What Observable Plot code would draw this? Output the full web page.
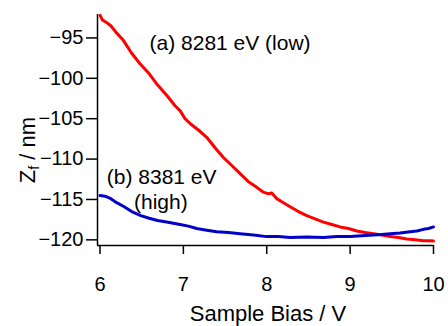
<!DOCTYPE html>
<html><head><meta charset="utf-8">
<script src="https://cdn.jsdelivr.net/npm/d3@7"></script>
<script src="https://cdn.jsdelivr.net/npm/@observablehq/plot@0.6"></script>
<style>body{margin:0;background:#fff}</style>
</head><body><div id="chart"></div>
<script>
const redV = [6.0,6.03,6.08,6.13,6.2,6.28,6.38,6.48,6.58,6.68,6.8,6.9,6.96,7.02,7.08,7.18,7.28,7.38,7.48,7.58,7.68,7.78,7.88,7.96,8.02,8.06,8.12,8.2,8.28,8.38,8.48,8.58,8.68,8.78,8.88,8.98,9.08,9.18,9.28,9.38,9.48,9.58,9.68,9.78,9.88,9.95,10.0];
const redZ = [-92.2,-92.8,-93.1,-93.5,-94.4,-95.3,-96.9,-98.2,-99.3,-100.7,-102.1,-103.4,-104.0,-105.0,-105.6,-106.4,-107.3,-108.6,-109.8,-110.8,-111.8,-112.8,-113.5,-114.1,-114.3,-114.2,-114.9,-115.4,-115.9,-116.5,-117.0,-117.4,-117.8,-118.1,-118.4,-118.6,-118.9,-119.1,-119.25,-119.4,-119.6,-119.7,-119.9,-120.0,-120.1,-120.1,-120.15];
const blueV = [6.0,6.06,6.13,6.2,6.29,6.38,6.49,6.58,6.69,6.8,6.96,7.06,7.16,7.28,7.4,7.54,7.68,7.84,8.0,8.14,8.28,8.48,8.68,8.84,9.0,9.14,9.28,9.38,9.48,9.6,9.72,9.8,9.88,9.94,10.0];
const blueZ = [-114.5,-114.6,-114.9,-115.4,-115.9,-116.5,-117.0,-117.3,-117.6,-117.8,-118.1,-118.3,-118.6,-118.8,-119.0,-119.1,-119.25,-119.4,-119.6,-119.6,-119.7,-119.65,-119.7,-119.6,-119.6,-119.5,-119.4,-119.35,-119.25,-119.15,-119.0,-118.9,-118.7,-118.6,-118.4];
const xTicks = [6,7,8,9,10];
const yTicks = [-95,-100,-105,-110,-115,-120];
const xDomain = [5.97,10];
const yDomain = [-120.7,-92.1];

const red = redV.map((v,i)=>({v, z: redZ[i]}));
const blue = blueV.map((v,i)=>({v, z: blueZ[i]}));
const font = "Liberation Sans, Arial, Helvetica, sans-serif";

const plot = Plot.plot({
  width: 448, height: 326,
  marginLeft: 97, marginRight: 15, marginTop: 14, marginBottom: 81,
  style: {fontFamily: font, background: "#fff", color: "#000"},
  x: {domain: xDomain},
  y: {domain: yDomain},
  marks: [
    Plot.axisX({ticks: xTicks, tickFormat: d3.format("d"), tickSize: 9, tickPadding: 22, fontSize: 20, label: null, strokeWidth: 1.5}),
    Plot.axisY({ticks: yTicks, tickSize: 11, tickPadding: 3, fontSize: 20, label: null, strokeWidth: 1.5}),
    Plot.ruleX([xDomain[0]], {stroke: "#000", strokeWidth: 1.5}),
    Plot.ruleY([yDomain[0]], {stroke: "#000", strokeWidth: 1.5}),
    Plot.line(red, {x: "v", y: "z", stroke: "#ff0000", strokeWidth: 3}),
    Plot.line(blue, {x: "v", y: "z", stroke: "#0000c8", strokeWidth: 3}),
    Plot.text(["(a) 8281 eV (low)"], {x: 7.56, y: -95.7, text: d => d, fontSize: 21, fill: "#000"}),
    Plot.text(["(b) 8381 eV"], {x: 6.74, y: -112.3, text: d => d, fontSize: 21, fill: "#000"}),
    Plot.text(["(high)"], {x: 6.73, y: -115.4, text: d => d, fontSize: 21, fill: "#000"})
  ]
});
const svg = d3.select(plot);
svg.append("text")
  .attr("x", 268).attr("y", 321).attr("text-anchor", "middle")
  .attr("font-family", font).attr("font-size", 22).attr("fill", "#000")
  .text("Sample Bias / V");
const yl = svg.append("text")
  .attr("transform", "translate(35,150) rotate(-90)")
  .attr("text-anchor", "middle")
  .attr("font-family", font).attr("font-size", 22).attr("fill", "#000");
yl.append("tspan").text("Z");
yl.append("tspan").attr("font-size", 14).attr("dy", 4).text("f");
yl.append("tspan").attr("dy", -4).text(" / nm");
document.getElementById("chart").appendChild(plot);
</script>
</body></html>
